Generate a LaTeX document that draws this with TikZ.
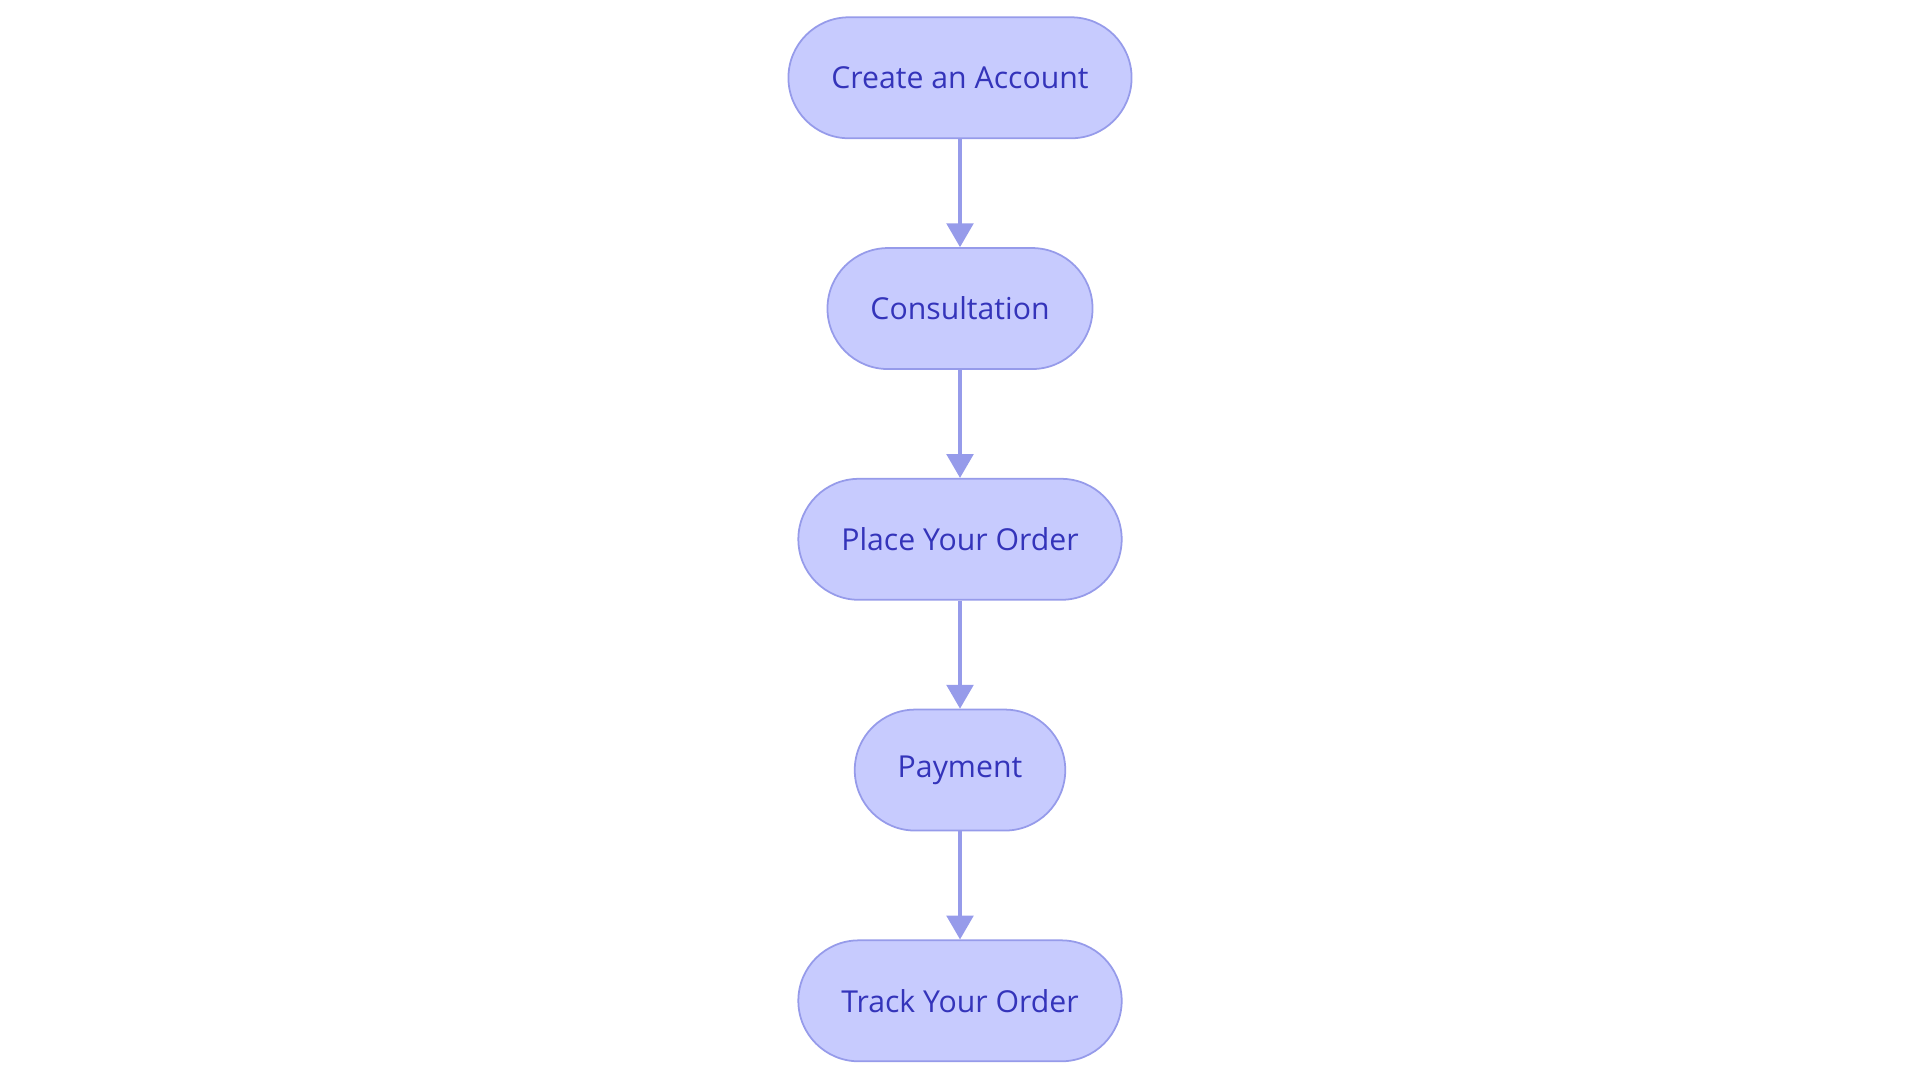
\documentclass[tikz,border=0pt]{standalone}
\usepackage{fontspec}
\setmainfont{Open Sans}
\usetikzlibrary{positioning,arrows.meta}
\definecolor{stepfill}{RGB}{199,203,254}
\definecolor{stepline}{RGB}{150,155,234}
\definecolor{steptext}{RGB}{52,52,186}
\tikzset{
  stage/.style={draw=stepline, line width=0.5pt, fill=stepfill, text=steptext,
    rectangle, rounded corners=0.605cm, minimum height=1.21cm, inner xsep=0.43cm,
    font=\fontsize{8.6pt}{10pt}\selectfont},
  flow/.style={draw=stepline, line width=1pt, -{Triangle[width=7.6pt,length=6.8pt]}}
}
\begin{document}
\begin{tikzpicture}[node distance=1.08cm]
\useasboundingbox (0,0) rectangle (19.2,-10.83);
%\draw[very thin, gray] (0,0) grid (19.2,-10.83);
\node[stage] (account) at (9.6,-0.778) {Create an Account};
\node[stage, below=of account] (consult) {Consultation};
\node[stage, below=of consult] (order) {Place Your Order};
\node[stage, below=of order] (pay) {Payment};
\node[stage, below=of pay] (track) {Track Your Order};
\draw[flow] (account) -- (consult);
\draw[flow] (consult) -- (order);
\draw[flow] (order) -- (pay);
\draw[flow] (pay) -- (track);
\end{tikzpicture}
\end{document}
